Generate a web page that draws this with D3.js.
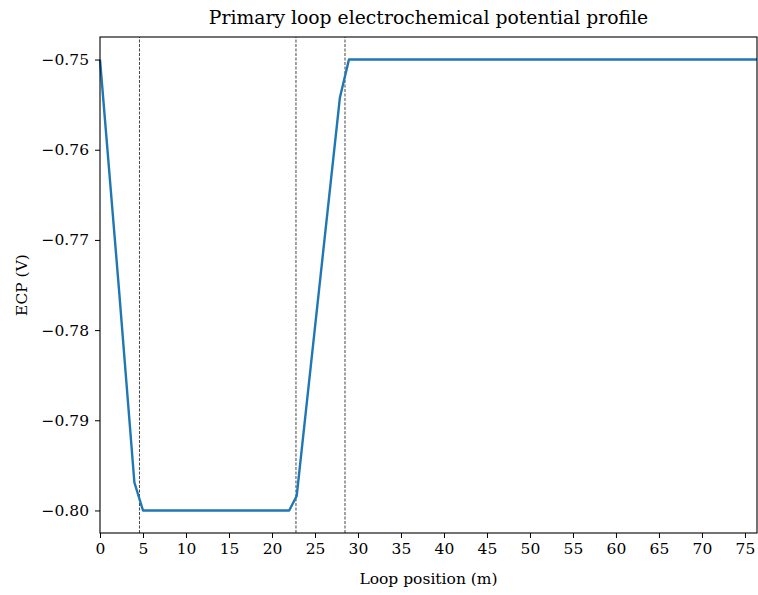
<!DOCTYPE html>
<html>
<head>
<meta charset="utf-8">
<script src="https://cdn.jsdelivr.net/npm/d3@7"></script>
<style>
  body { margin: 0; background: #fff; }
  text { font-family: "DejaVu Serif", "Liberation Serif", serif; fill: #000; }
</style>
</head>
<body>
<div id="chart"></div>
<script>
// ECP profile
let positions = [0, 2.2, 4.0, 5.0, 22.0, 22.87, 27.9, 28.95, 76.4];
let ecp = [-0.75, -0.7754, -0.7969, -0.80, -0.80, -0.7984, -0.7542, -0.75, -0.75];
let markers = [4.59, 22.79, 28.49];
let xTicks = [0, 5, 10, 15, 20, 25, 30, 35, 40, 45, 50, 55, 60, 65, 70, 75];
let yTicks = [-0.75, -0.76, -0.77, -0.78, -0.79, -0.80];

let width = 758, height = 595;
let margin = { top: 37, right: 1, bottom: 62, left: 100 };

let svg = d3.select("#chart")
    .append("svg")
    .attr("width", width)
    .attr("height", height);

let x = d3.scaleLinear()
    .domain([0, 76.4])
    .range([margin.left, width - margin.right]);

let y = d3.scaleLinear()
    .domain([-0.8025, -0.7475])
    .range([height - margin.bottom, margin.top]);

let fmtY = d => d3.format(".2f")(d).replace("-", "\u2212");

// dashed markers
svg.append("g")
    .selectAll("line")
    .data(markers)
    .enter()
    .append("line")
    .attr("x1", d => x(d)).attr("x2", d => x(d))
    .attr("y1", y.range()[0]).attr("y2", y.range()[1])
    .attr("stroke", "#444")
    .attr("stroke-width", 1)
    .attr("stroke-dasharray", "3,1.5");

let line = d3.line()
    .x((d, i) => x(positions[i]))
    .y(d => y(d));

svg.append("path")
    .datum(ecp)
    .attr("fill", "none")
    .attr("stroke", "#1f77b4")
    .attr("stroke-width", 2.4)
    .attr("stroke-linejoin", "round")
    .attr("d", line);

// frame
svg.append("rect")
    .attr("x", margin.left)
    .attr("y", margin.top)
    .attr("width", width - margin.right - margin.left)
    .attr("height", height - margin.bottom - margin.top)
    .attr("fill", "none")
    .attr("stroke", "#000")
    .attr("stroke-width", 1.1);

let xAxis = svg.append("g")
    .attr("transform", `translate(0,${height - margin.bottom})`)
    .call(d3.axisBottom(x).tickValues(xTicks).tickSize(5).tickPadding(5).tickFormat(d3.format("d")));

let yAxis = svg.append("g")
    .attr("transform", `translate(${margin.left},0)`)
    .call(d3.axisLeft(y).tickValues(yTicks).tickSize(5).tickPadding(6).tickFormat(fmtY));

[xAxis, yAxis].forEach(a => {
    a.select(".domain").remove();
    a.selectAll(".tick line").attr("stroke", "#000").attr("stroke-width", 1);
    a.selectAll(".tick text")
        .style("font-family", "'DejaVu Serif', 'Liberation Serif', serif")
        .style("font-size", "15.5px")
        .attr("fill", "#000");
});

svg.append("text")
    .attr("x", (margin.left + width - margin.right) / 2)
    .attr("y", 24)
    .attr("text-anchor", "middle")
    .style("font-size", "18.8px")
    .text("Primary loop electrochemical potential profile");

svg.append("text")
    .attr("x", (margin.left + width - margin.right) / 2)
    .attr("y", 584)
    .attr("text-anchor", "middle")
    .style("font-size", "15.5px")
    .text("Loop position (m)");

svg.append("text")
    .attr("transform", `translate(27,${(margin.top + height - margin.bottom) / 2}) rotate(-90)`)
    .attr("text-anchor", "middle")
    .style("font-size", "15.5px")
    .text("ECP (V)");
</script>
</body>
</html>
